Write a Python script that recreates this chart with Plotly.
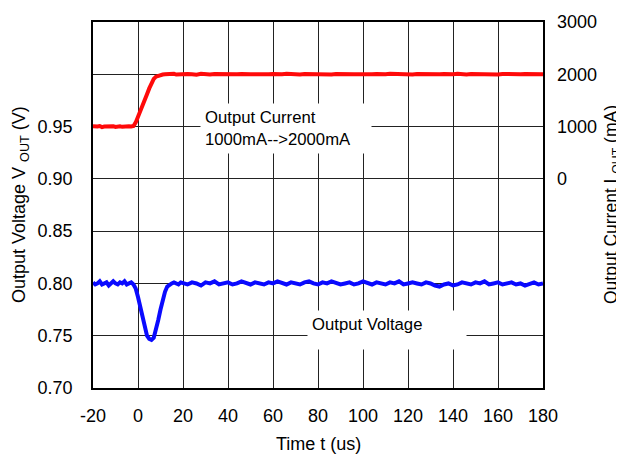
import plotly.graph_objects as go

# time axis (us)
time_fine = list(range(-20, 20))
time_coarse = list(range(20, 181, 2))
time_us = time_fine + time_coarse

# Output current (mA)
current_fine = [1005, 995, 1000, 1010, 990, 1000, 1005, 995, 1000, 1008, 992, 1000, 1005, 995, 1002, 998, 1005, 1000,
                1010, 1080, 1180, 1290, 1400, 1510, 1620, 1730, 1830, 1910, 1955, 1975, 1990, 1995, 2000, 2005,
                1995, 2000, 2008, 1995, 2000, 2005]
current_coarse = [1995, 2005, 2000, 1992, 2008, 2000, 1995, 2005, 2002, 1996, 2006, 1998, 2000, 2004, 1994, 2002,
                  2000, 2006, 1996, 2000, 2005, 1995, 2002, 2008, 1998, 2000, 1995, 2004, 2000, 2006,
                  1996, 2002, 2000, 1995, 2005, 2000, 2008, 1996, 2002, 2000, 1995, 2006, 2000, 2004, 1996,
                  2000, 2008, 2002, 1998, 2005, 2000, 1995, 2004, 2000, 2006, 2002, 1996, 2000, 2005, 1998,
                  2002, 2008, 2000, 1996, 2004, 2000, 2006, 1998, 2002, 2000, 1995, 2005, 2000, 2004, 1998,
                  2002, 2006, 2000, 1996, 2004, 2000]
current_ma = current_fine + current_coarse

# Output voltage (V)
voltage_fine = [0.801, 0.799, 0.800, 0.802, 0.799, 0.800, 0.801, 0.798, 0.800, 0.802, 0.800, 0.799, 0.801, 0.800,
                0.802, 0.799, 0.800, 0.801,
                0.799, 0.795, 0.787, 0.778, 0.768, 0.758, 0.750, 0.747, 0.746, 0.748, 0.755, 0.765, 0.775, 0.785,
                0.792, 0.797, 0.799, 0.800, 0.801, 0.800, 0.799, 0.801]
voltage_coarse = [0.800, 0.799, 0.801, 0.800, 0.798, 0.801, 0.800, 0.802, 0.799, 0.800, 0.801, 0.799, 0.800, 0.802,
                  0.800, 0.799, 0.801, 0.800, 0.799, 0.801, 0.800, 0.802, 0.800, 0.799, 0.801, 0.800, 0.799,
                  0.801, 0.802, 0.800, 0.799, 0.801, 0.800, 0.802, 0.800, 0.799, 0.800, 0.801, 0.799, 0.800,
                  0.802, 0.800, 0.799, 0.801, 0.800, 0.799, 0.801, 0.800, 0.802, 0.799, 0.800, 0.801, 0.800,
                  0.799, 0.801, 0.800, 0.798, 0.797, 0.799, 0.800, 0.798, 0.799, 0.801, 0.800, 0.799, 0.801,
                  0.800, 0.802, 0.799, 0.800, 0.801, 0.799, 0.800, 0.801, 0.799, 0.800, 0.798, 0.800, 0.801,
                  0.799, 0.800]
voltage_v = voltage_fine + voltage_coarse

x_ticks = list(range(-20, 181, 20))
x_labels = ["-20", "0", "20", "40", "60", "80", "100", "120", "140", "160", "180"]
v_ticks = [0.70, 0.75, 0.80, 0.85, 0.90, 0.95, 1.00, 1.05]
v_labels = ["0.70", "0.75", "0.80", "0.85", "0.90", "0.95", "", ""]
i_ticks = [-4000, -3000, -2000, -1000, 0, 1000, 2000, 3000]
i_labels = ["", "", "", "", "0", "1000", "2000", "3000"]

FONT = "Liberation Sans, Arial, sans-serif"
TICK = 18

fig = go.Figure()
fig.add_trace(go.Scatter(x=time_us, y=voltage_v, mode="lines", line=dict(color="#0a0aff", width=4),
                         yaxis="y", showlegend=False))
fig.add_trace(go.Scatter(x=time_us, y=current_ma, mode="lines", line=dict(color="#ff0a0a", width=4),
                         yaxis="y2", showlegend=False))

# page body has an 8px margin: figure spans (8,8)-(624,456)
fig.update_layout(
    width=616, height=448,
    margin=dict(l=85, r=81, t=14, b=68, autoexpand=False),
    paper_bgcolor="white", plot_bgcolor="white",
    font=dict(family=FONT, size=16, color="black"),
    xaxis=dict(range=[-20, 180], tickvals=x_ticks, ticktext=x_labels, showgrid=True, gridcolor="#222222",
               gridwidth=1, showline=True, linecolor="black", linewidth=1.5, mirror=True, zeroline=False,
               ticks="", tickfont=dict(size=TICK), ticklabelstandoff=11),
    yaxis=dict(range=[0.70, 1.05], tickvals=v_ticks, ticktext=v_labels, showgrid=True, gridcolor="#222222",
               gridwidth=1, showline=True, linecolor="black", linewidth=1.5, mirror=True, zeroline=False,
               ticks="", tickfont=dict(size=TICK), ticklabelstandoff=15),
    yaxis2=dict(range=[-4000, 3000], tickvals=i_ticks, ticktext=i_labels, overlaying="y", side="right",
                showgrid=False, zeroline=False, showline=False, ticks="", tickfont=dict(size=TICK),
                ticklabelstandoff=13),
    annotations=[
        dict(x=0.5, y=0, xref="paper", yref="paper", yshift=-56, xanchor="center", yanchor="middle",
             text="Time t (us)", showarrow=False, font=dict(size=18)),
        dict(x=0, y=0.5, xref="paper", yref="paper", xshift=-73, xanchor="center", yanchor="middle",
             textangle=-90, text="Output Voltage V <sub>OUT</sub> (V)", showarrow=False, font=dict(size=18)),
        dict(x=1, y=0.5, xref="paper", yref="paper", xshift=69, xanchor="center", yanchor="middle",
             textangle=-90, text="Output Current I <sub>OUT</sub> (mA)", showarrow=False, font=dict(size=17.5)),
        dict(x=27.5, y=0.948, xref="x", yref="y", xanchor="left", yanchor="middle",
             text="Output Current<br>1000mA-->2000mA", showarrow=False, align="left",
             bgcolor="white", borderpad=4, width=162, font=dict(size=16.7)),
        dict(x=75, y=0.755, xref="x", yref="y", xanchor="left", yanchor="middle",
             text="Output Voltage", showarrow=False, align="left", valign="top",
             bgcolor="white", borderpad=4, width=150, height=30, font=dict(size=16.7)),
    ],
)

fig.write_html("out.html")
